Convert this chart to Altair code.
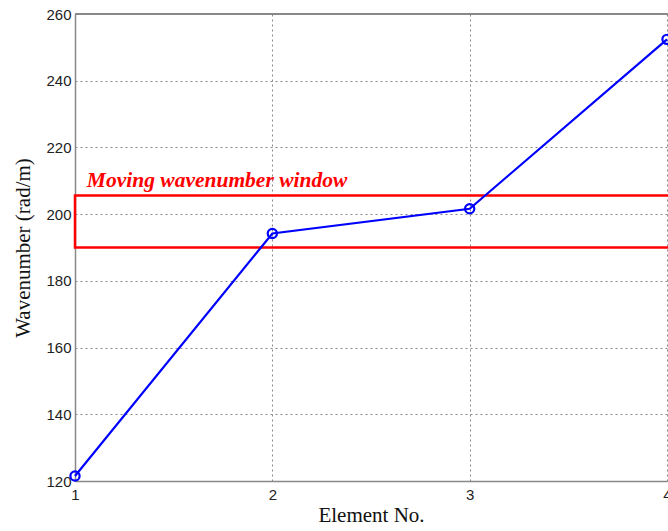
import altair as alt
import pandas as pd

elements = [1, 2, 3, 4]
wavenumbers = [121.5, 194.2, 201.6, 252.4]

window_low = [190.0]
window_high = [205.6]
window_x = [1.0]
window_x2 = [4.2]

label_text = ["Moving wavenumber window"]
label_x = [1.06]
label_y = [208.2]

df = pd.DataFrame({"element": elements, "k": wavenumbers})
win = pd.DataFrame({"x": window_x, "x2": window_x2, "y": window_low, "y2": window_high})
lab = pd.DataFrame({"x": label_x, "y": label_y, "t": label_text})

xscale = alt.Scale(domain=[1, 4], nice=False, zero=False)
yscale = alt.Scale(domain=[120, 260], nice=False, zero=False)

xaxis = alt.Axis(
    title="Element No.", values=[1, 2, 3, 4], format="d",
    grid=True, gridDash=[2, 3], gridColor="#888", gridOpacity=1, gridWidth=1,
    domainColor="#888", domainWidth=1.5, ticks=False, labelFlush=False,
    labelFont="Liberation Sans", labelFontSize=15, labelColor="#222", labelPadding=6,
    titleFont="Liberation Serif", titleFontSize=21, titleFontWeight="normal",
    titleColor="#111", titlePadding=2,
)
yaxis = alt.Axis(
    title="Wavenumber (rad/m)", values=[120, 140, 160, 180, 200, 220, 240, 260],
    grid=True, gridDash=[2, 3], gridColor="#888", gridOpacity=1, gridWidth=1,
    domainColor="#888", domainWidth=1.5, ticks=False, labelFlush=False,
    labelFont="Liberation Sans", labelFontSize=15, labelColor="#222", labelPadding=4,
    titleFont="Liberation Serif", titleFontSize=21, titleFontWeight="normal",
    titleColor="#111", titlePadding=12,
)

line = alt.Chart(df).mark_line(color="#0000ff", strokeWidth=2.2).encode(
    x=alt.X("element:Q", scale=xscale, axis=xaxis),
    y=alt.Y("k:Q", scale=yscale, axis=yaxis),
)
pts = alt.Chart(df).mark_point(
    shape="circle", filled=False, color="#0000ff", size=85, strokeWidth=2.2, opacity=1
).encode(x=alt.X("element:Q", scale=xscale), y=alt.Y("k:Q", scale=yscale))

rect = alt.Chart(win).mark_rect(
    filled=False, stroke="#ff0000", strokeWidth=2.5, fillOpacity=0
).encode(
    x=alt.X("x:Q", scale=xscale), x2="x2:Q",
    y=alt.Y("y:Q", scale=yscale), y2="y2:Q",
)

top_border = alt.Chart(df).mark_rule(color="#888", strokeWidth=1.5).encode(
    x=alt.value(0), x2=alt.value(600), y=alt.value(0)
)

txt = alt.Chart(lab).mark_text(
    align="left", baseline="alphabetic", color="#ff0000",
    font="Liberation Serif", fontSize=21.5, fontWeight="bold", fontStyle="italic",
).encode(x=alt.X("x:Q", scale=xscale), y=alt.Y("y:Q", scale=yscale), text="t:N")

chart = alt.layer(top_border, rect, line, pts, txt).properties(
    width=592, height=467,
    autosize=alt.AutoSizeParams(type="none"),
    padding={"left": 75, "top": 14, "right": 1, "bottom": 50},
    background="white",
).configure_view(strokeWidth=0, stroke=None)

chart.save("out.html", embed_options={"renderer": "svg", "actions": False})
